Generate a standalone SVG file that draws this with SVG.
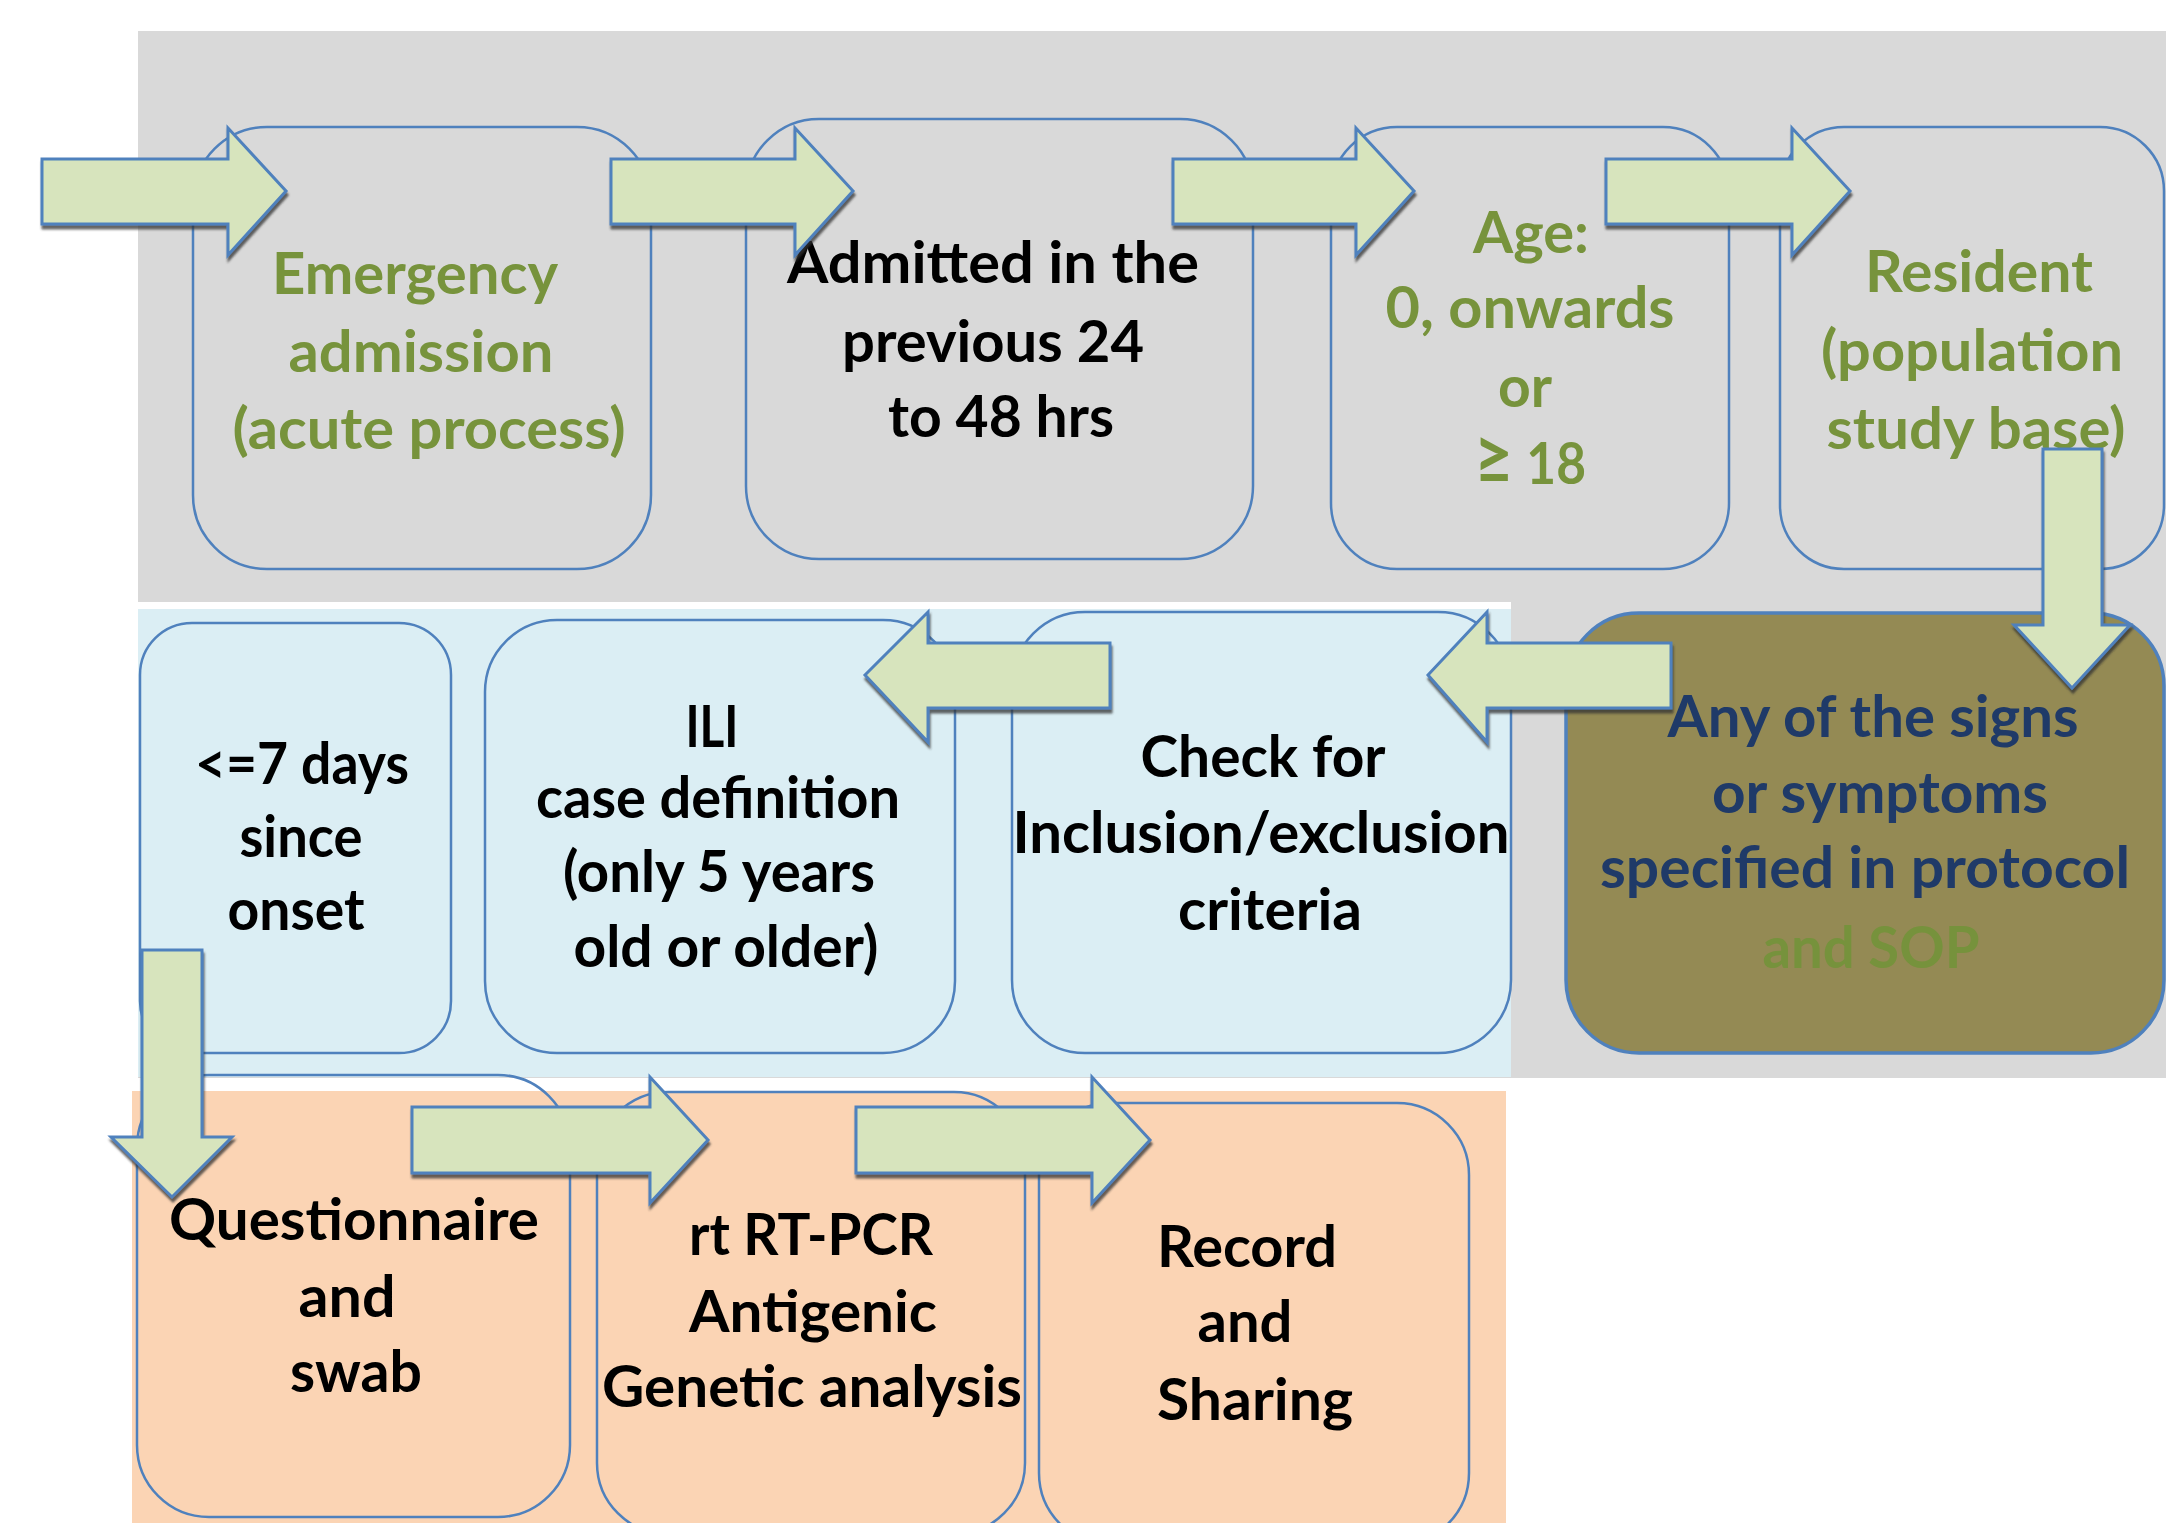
<svg xmlns="http://www.w3.org/2000/svg" width="2166" height="1523" viewBox="0 0 2166 1523">
<style>
.node{fill:none;stroke:#4F81BD;stroke-width:2.5}
.t{font-family:Lato,"Open Sans","Liberation Sans",sans-serif;font-weight:700;font-size:57px;text-anchor:middle}
.g{fill:#77933C}
.k{fill:#000000}
.n{fill:#1F3A68}
.arrow{fill:#D7E4BD;stroke:#4F81BD;stroke-width:3;stroke-linejoin:miter;filter:url(#sh)}
</style>
<defs>
<filter id="sh" x="-10%" y="-10%" width="130%" height="140%">
<feDropShadow dx="1" dy="4" stdDeviation="1.2" flood-color="#333333" flood-opacity="0.75"/>
</filter>
</defs>
<rect width="2166" height="1523" fill="#FFFFFF"/>
<g id="bands">
<rect x="138" y="31" width="2028" height="1047" fill="#D9D9D9"/>
<rect x="138" y="602" width="1373" height="7" fill="#FFFFFF"/>
<rect x="138" y="609" width="1373" height="468" fill="#DBEEF4"/>
<rect x="132" y="1091" width="1374" height="432" fill="#FBD4B4"/>
</g>
<g id="n1">
<rect class="node" x="193" y="127" width="458" height="442" rx="74"/>
<text class="t g" x="415" y="294" textLength="286" lengthAdjust="spacingAndGlyphs">Emergency</text>
<text class="t g" x="421" y="372" textLength="265" lengthAdjust="spacingAndGlyphs">admission</text>
<text class="t g" x="429" y="449" textLength="393" lengthAdjust="spacingAndGlyphs">(acute process)</text>
</g>
<g id="n2">
<rect class="node" x="746" y="119" width="507" height="440" rx="73"/>
<text class="t k" x="993" y="283" textLength="412" lengthAdjust="spacingAndGlyphs">Admitted in the</text>
<text class="t k" x="993" y="362" textLength="302" lengthAdjust="spacingAndGlyphs">previous 24</text>
<text class="t k" x="1001" y="437" textLength="226" lengthAdjust="spacingAndGlyphs">to 48 hrs</text>
</g>
<g id="n3">
<rect class="node" x="1331" y="127" width="398" height="442" rx="66"/>
<text class="t g" x="1531" y="253" textLength="116" lengthAdjust="spacingAndGlyphs">Age:</text>
<text class="t g" x="1530" y="328" textLength="289" lengthAdjust="spacingAndGlyphs">0, onwards</text>
<text class="t g" x="1525" y="407" textLength="54" lengthAdjust="spacingAndGlyphs">or</text>
<text class="t g" x="1530" y="484" textLength="112" lengthAdjust="spacingAndGlyphs"><tspan font-size="76">≥</tspan> 18</text>
</g>
<g id="n4">
<rect class="node" x="1780" y="127" width="384" height="442" rx="64"/>
<text class="t g" x="1979" y="292" textLength="228" lengthAdjust="spacingAndGlyphs">Resident</text>
<text class="t g" x="1972" y="371" textLength="302" lengthAdjust="spacingAndGlyphs">(population</text>
<text class="t g" x="1976" y="449" textLength="299" lengthAdjust="spacingAndGlyphs">study base)</text>
</g>
<g id="n5">
<rect class="node" x="140" y="623" width="311" height="430" rx="52"/>
<text class="t k" x="302" y="784" textLength="214" lengthAdjust="spacingAndGlyphs">&lt;=7 days</text>
<text class="t k" x="301" y="857" textLength="123" lengthAdjust="spacingAndGlyphs">since</text>
<text class="t k" x="296" y="930" textLength="137" lengthAdjust="spacingAndGlyphs">onset</text>
</g>
<g id="n6">
<rect class="node" x="485" y="620" width="470" height="433" rx="72"/>
<text class="t k" x="712" y="747" textLength="53" lengthAdjust="spacingAndGlyphs">ILI</text>
<text class="t k" x="718" y="818" textLength="364" lengthAdjust="spacingAndGlyphs">case definition</text>
<text class="t k" x="719" y="892" textLength="312" lengthAdjust="spacingAndGlyphs">(only 5 years</text>
<text class="t k" x="726" y="967" textLength="305" lengthAdjust="spacingAndGlyphs">old or older)</text>
</g>
<g id="n7">
<rect class="node" x="1012" y="612" width="499" height="441" rx="73"/>
<text class="t k" x="1263" y="777" textLength="245" lengthAdjust="spacingAndGlyphs">Check for</text>
<text class="t k" x="1261" y="853" textLength="497" lengthAdjust="spacingAndGlyphs">Inclusion/exclusion</text>
<text class="t k" x="1270" y="930" textLength="184" lengthAdjust="spacingAndGlyphs">criteria</text>
</g>
<g id="n8">
<rect x="1566" y="613" width="598" height="440" rx="73" fill="#948A54" stroke="#4F81BD" stroke-width="3.5"/>
<text class="t n" x="1873" y="737" textLength="411" lengthAdjust="spacingAndGlyphs">Any of the signs</text>
<text class="t n" x="1880" y="813" textLength="336" lengthAdjust="spacingAndGlyphs">or symptoms</text>
<text class="t n" x="1865" y="888" textLength="530" lengthAdjust="spacingAndGlyphs">specified in protocol</text>
<text class="t" x="1871" y="968" textLength="217" lengthAdjust="spacingAndGlyphs" fill="#76923C">and SOP</text>
</g>
<g id="n9">
<rect class="node" x="137" y="1075" width="433" height="442" rx="72"/>
<text class="t k" x="354" y="1240" textLength="370" lengthAdjust="spacingAndGlyphs">Questionnaire</text>
<text class="t k" x="347" y="1317" textLength="97" lengthAdjust="spacingAndGlyphs">and</text>
<text class="t k" x="356" y="1392" textLength="132" lengthAdjust="spacingAndGlyphs">swab</text>
</g>
<g id="n10">
<rect class="node" x="597" y="1092" width="428" height="442" rx="71"/>
<text class="t k" x="811" y="1255" textLength="244" lengthAdjust="spacingAndGlyphs">rt RT-PCR</text>
<text class="t k" x="813" y="1332" textLength="248" lengthAdjust="spacingAndGlyphs">Antigenic</text>
<text class="t k" x="812" y="1407" textLength="420" lengthAdjust="spacingAndGlyphs">Genetic analysis</text>
</g>
<g id="n11">
<rect class="node" x="1039" y="1103" width="430" height="442" rx="72"/>
<text class="t k" x="1247" y="1267" textLength="180" lengthAdjust="spacingAndGlyphs">Record</text>
<text class="t k" x="1245" y="1342" textLength="95" lengthAdjust="spacingAndGlyphs">and</text>
<text class="t k" x="1255" y="1420" textLength="196" lengthAdjust="spacingAndGlyphs">Sharing</text>
</g>
<g id="connectors">
<path class="arrow" d="M42,159 L228,159 L228,128 L286,191 L228,255 L228,224 L42,224 Z"/>
<path class="arrow" d="M611,159 L795,159 L795,128 L853,191 L795,255 L795,224 L611,224 Z"/>
<path class="arrow" d="M1173,159 L1356,159 L1356,128 L1414,191 L1356,255 L1356,224 L1173,224 Z"/>
<path class="arrow" d="M1606,159 L1792,159 L1792,128 L1850,191 L1792,255 L1792,224 L1606,224 Z"/>
<path class="arrow" d="M2043,449 L2102,449 L2102,625 L2130,625 L2072,688 L2014,625 L2043,625 Z"/>
<path class="arrow" d="M1671,643 L1487,643 L1487,612 L1428,675 L1487,742 L1487,708 L1671,708 Z"/>
<path class="arrow" d="M1110,643 L928,643 L928,612 L865,675 L928,742 L928,708 L1110,708 Z"/>
<path class="arrow" d="M142,950 L202,950 L202,1137 L232,1137 L172,1197 L111,1137 L142,1137 Z"/>
<path class="arrow" d="M412,1107 L650,1107 L650,1077 L708,1140 L650,1203 L650,1173 L412,1173 Z"/>
<path class="arrow" d="M856,1107 L1092,1107 L1092,1077 L1150,1140 L1092,1203 L1092,1173 L856,1173 Z"/>
</g>
</svg>
